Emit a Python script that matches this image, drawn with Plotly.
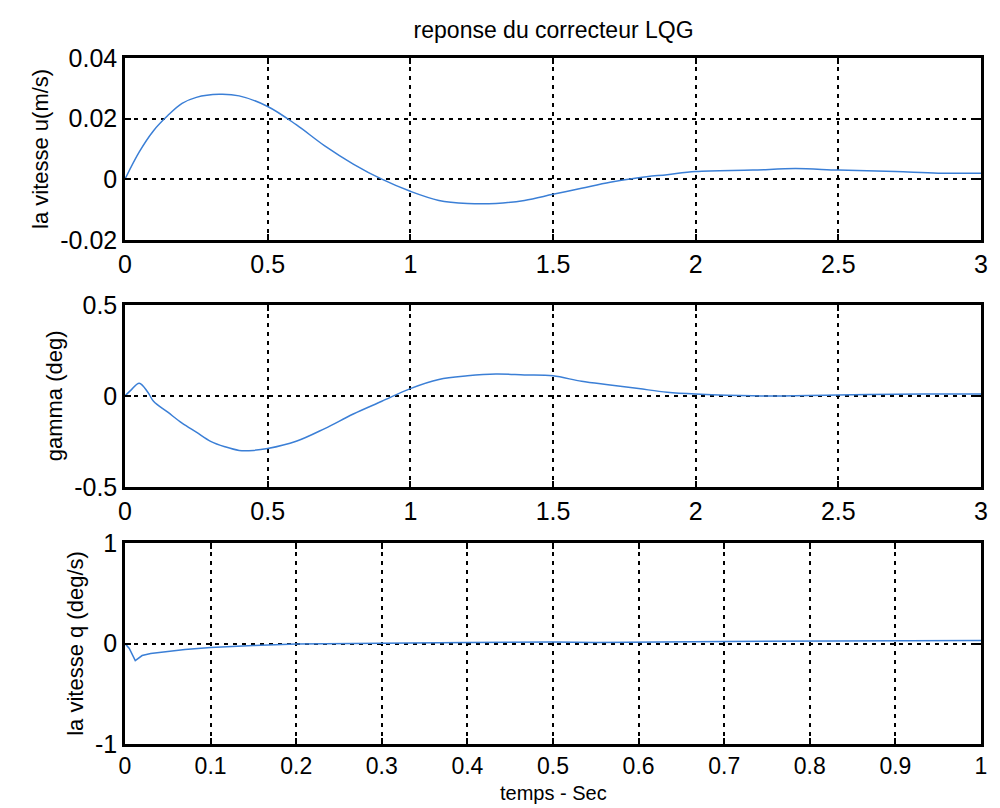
import plotly.graph_objects as go

# ---- data ----
t_u = [0, 0.05, 0.1, 0.15, 0.2, 0.25, 0.33, 0.4, 0.5, 0.6, 0.7, 0.8, 0.9, 1.0, 1.1, 1.2, 1.3, 1.4,
       1.5, 1.6, 1.7, 1.8, 1.9, 2.0, 2.2, 2.35, 2.5, 2.7, 2.85, 3.0]
u_vals = [0, 0.009, 0.016, 0.021, 0.025, 0.027, 0.028, 0.0275, 0.024, 0.018, 0.011, 0.005, 0.0,
          -0.004, -0.007, -0.008, -0.008, -0.007, -0.005, -0.003, -0.001, 0.0005, 0.0015, 0.0025,
          0.003, 0.0035, 0.003, 0.0025, 0.002, 0.002]

t_g = [0, 0.02, 0.05, 0.08, 0.1, 0.15, 0.2, 0.25, 0.3, 0.35, 0.4, 0.45, 0.5, 0.6, 0.7, 0.8, 0.9,
       1.0, 1.1, 1.2, 1.3, 1.4, 1.5, 1.6, 1.7, 1.8, 1.9, 2.0, 2.2, 2.5, 2.8, 3.0]
gamma_vals = [0, 0.03, 0.07, 0.02, -0.03, -0.09, -0.15, -0.2, -0.25, -0.28, -0.3, -0.3, -0.29,
              -0.25, -0.18, -0.1, -0.03, 0.04, 0.09, 0.11, 0.12, 0.115, 0.11, 0.08, 0.06, 0.04,
              0.02, 0.01, 0.0, 0.005, 0.01, 0.01]

t_q = [0, 0.005, 0.012, 0.02, 0.03, 0.05, 0.07, 0.1, 0.12, 0.15, 0.2, 0.3, 0.4, 0.5, 0.55, 0.7,
       0.85, 1.0]
q_vals = [0, -0.05, -0.17, -0.12, -0.1, -0.08, -0.06, -0.04, -0.03, -0.02, -0.005, 0.005, 0.01,
          0.015, 0.01, 0.02, 0.025, 0.03]

title_text = "reponse du correcteur LQG"
ylabels = ["la vitesse u(m/s)", "gamma (deg)", "la vitesse q (deg/s)"]
xlabel = "temps - Sec"

u_ticks = [-0.02, 0, 0.02, 0.04]
u_ticktext = ["-0.02", "0", "0.02", "0.04"]
g_ticks = [-0.5, 0, 0.5]
g_ticktext = ["-0.5", "0", "0.5"]
q_ticks = [-1, 0, 1]
q_ticktext = ["-1", "0", "1"]
x3_ticks = [0, 0.5, 1, 1.5, 2, 2.5, 3]
x3_ticktext = ["0", "0.5", "1", "1.5", "2", "2.5", "3"]
x1_ticks = [0, 0.1, 0.2, 0.3, 0.4, 0.5, 0.6, 0.7, 0.8, 0.9, 1]
x1_ticktext = ["0", "0.1", "0.2", "0.3", "0.4", "0.5", "0.6", "0.7", "0.8", "0.9", "1"]

# ---- figure ----
FONT = "Liberation Sans Narrow, Liberation Sans, Arial, sans-serif"
LINE = "#3b7fd6"

fig = go.Figure()
fig.add_trace(go.Scatter(x=t_u, y=u_vals, mode="lines", line=dict(color=LINE, width=1.5, shape="spline"),
                         xaxis="x", yaxis="y", showlegend=False))
fig.add_trace(go.Scatter(x=t_g, y=gamma_vals, mode="lines", line=dict(color=LINE, width=1.5, shape="spline"),
                         xaxis="x2", yaxis="y2", showlegend=False))
fig.add_trace(go.Scatter(x=t_q, y=q_vals, mode="lines", line=dict(color=LINE, width=1.5),
                         xaxis="x3", yaxis="y3", showlegend=False))

def ax(**kw):
    d = dict(showline=True, linewidth=2.5, linecolor="black", mirror="ticks",
             ticks="inside", ticklen=6, tickwidth=1.5, tickcolor="black",
             showgrid=True, gridcolor="black", gridwidth=1.6, griddash="4px,5px",
             zeroline=False, tickfont=dict(family=FONT, size=25, color="black"))
    d.update(kw)
    return d

TF = dict(family=FONT, size=22, color="black")

fig.update_layout(
    width=992, height=800,
    paper_bgcolor="white", plot_bgcolor="white",
    margin=dict(l=117, r=12, t=50, b=64),
    font=dict(family=FONT, color="black"),
    title=dict(text=title_text, x=0.55, xanchor="center", y=0.9725, yanchor="middle",
               font=dict(family=FONT, size=23, color="black")),
    xaxis=ax(domain=[0, 1], range=[0, 3], tickvals=x3_ticks, ticktext=x3_ticktext, anchor="y"),
    yaxis=ax(domain=[0.735, 1], range=[-0.02, 0.04], tickvals=u_ticks, ticktext=u_ticktext, anchor="x",
             title=dict(text=ylabels[0], font=TF, standoff=6)),
    xaxis2=ax(domain=[0, 1], range=[0, 3], tickvals=x3_ticks, ticktext=x3_ticktext, anchor="y2"),
    yaxis2=ax(domain=[0.375, 0.640], range=[-0.5, 0.5], tickvals=g_ticks, ticktext=g_ticktext, anchor="x2",
              title=dict(text=ylabels[1], font=TF, standoff=6)),
    xaxis3=ax(domain=[0, 1], range=[0, 1], tickvals=x1_ticks, ticktext=x1_ticktext, anchor="y3",
              tickfont=dict(family=FONT, size=23, color="black")),
    yaxis3=ax(domain=[0, 0.293], range=[-1, 1], tickvals=q_ticks, ticktext=q_ticktext, anchor="x3",
              title=dict(text=ylabels[2], font=TF, standoff=6)),
    annotations=[dict(text=xlabel, xref="paper", yref="paper", x=0.5, y=0, xanchor="center",
                      yanchor="top", yshift=-36, showarrow=False,
                      font=dict(family=FONT, size=20, color="black"))],
)

fig.write_html("out.html")
